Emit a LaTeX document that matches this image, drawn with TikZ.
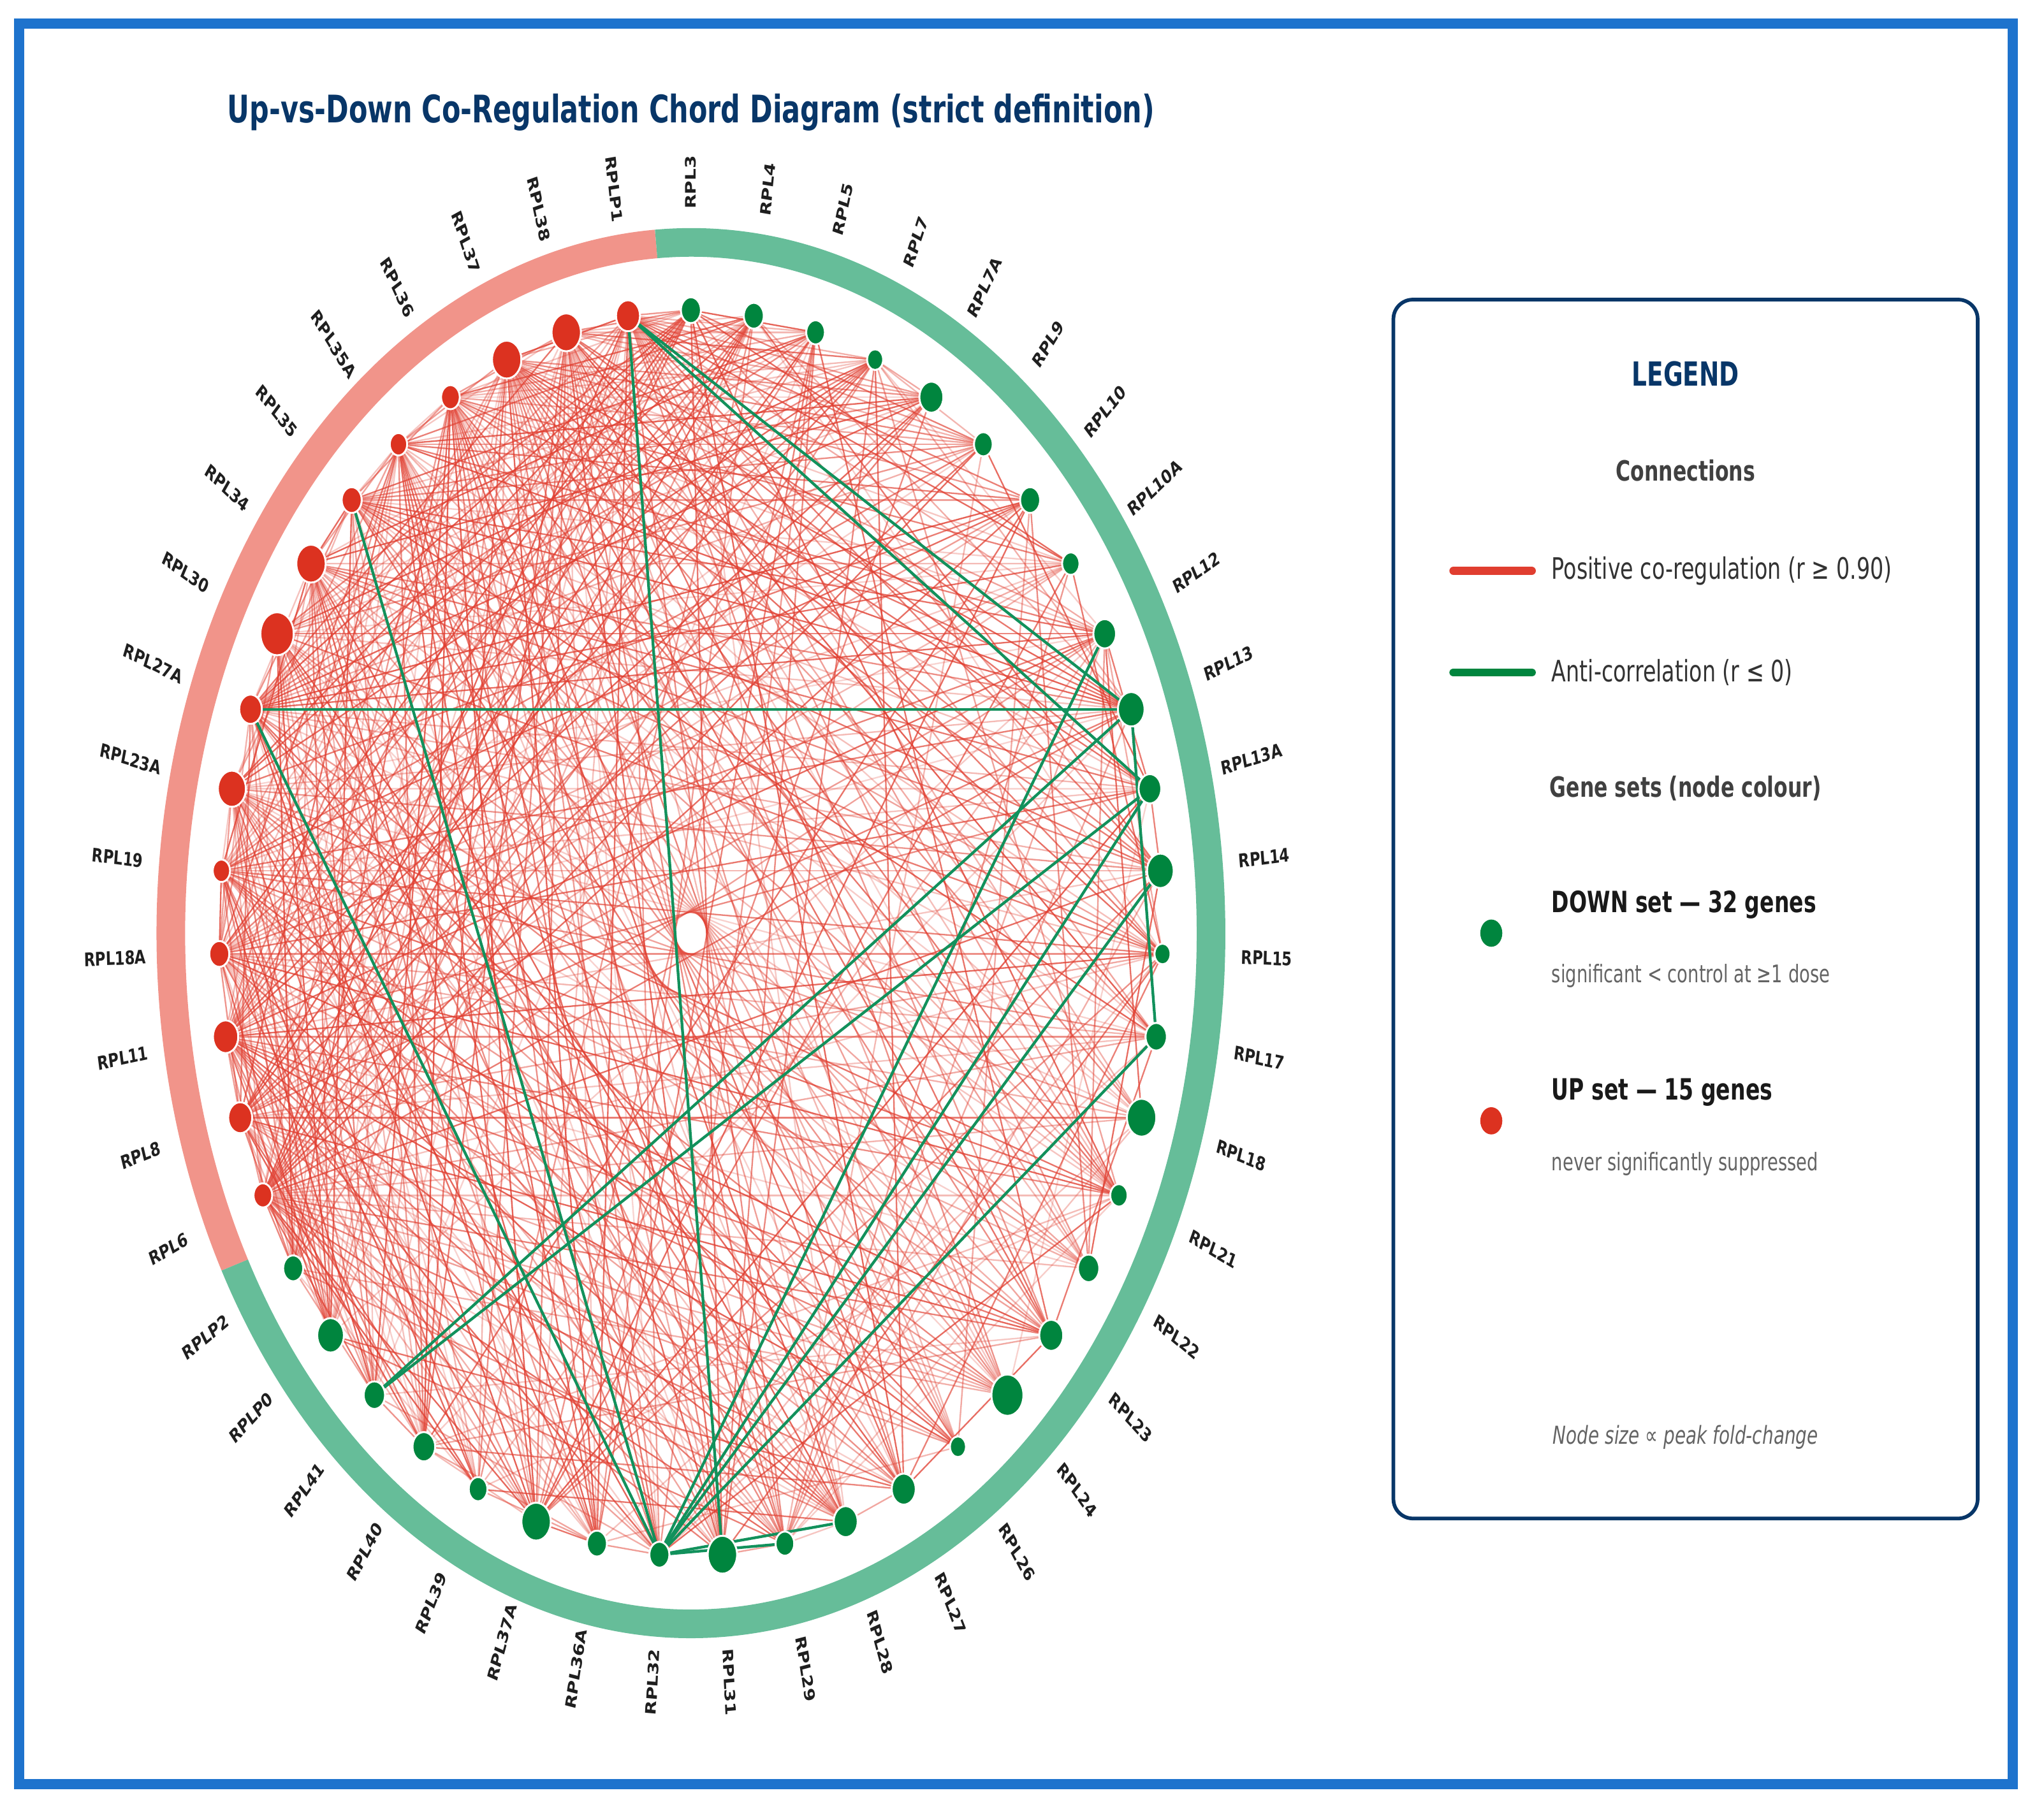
\documentclass[tikz,border=0pt]{standalone}
\usepackage{fontspec}
\setmainfont{DejaVu Sans}[FakeStretch=0.72]
\newfontfamily\genefont{DejaVu Sans}
\usetikzlibrary{shapes.geometric, backgrounds, positioning}

\definecolor{navy}{RGB}{8,54,104}
\definecolor{frameblue}{RGB}{30,115,205}
\definecolor{upring}{RGB}{241,148,138}
\definecolor{downring}{RGB}{102,189,153}
\definecolor{upnode}{RGB}{220,50,32}
\definecolor{downnode}{RGB}{0,133,62}
\definecolor{posred}{RGB}{224,62,48}
\definecolor{antigreen}{RGB}{18,145,92}
\definecolor{headgray}{RGB}{64,64,64}
\definecolor{notegray}{RGB}{100,100,100}

\begin{document}
\begin{tikzpicture}[
    x=0.02cm, y=0.02cm,
    gene/.style={ellipse, draw=white, line width=0.8pt, inner sep=0pt},
    genelabel/.style={font=\genefont\bfseries\fontsize{6.3}{7}\selectfont, text=black!88, inner sep=0pt, yscale=1.3},
    ring/.style={line width=12.5pt},
    posline/.style={draw=posred, line width=0.65pt},
    antiline/.style={draw=antigreen, line width=1.2pt},
    keyline/.style={line width=3.6pt, line cap=round},
    charttitle/.style={font=\bfseries\fontsize{16.6}{19}\selectfont, text=navy},
    legendbox/.style={draw=navy, line width=1.6pt, rounded corners=8.5pt, minimum width=255.1pt, minimum height=532.3pt},
    legtitle/.style={font=\bfseries\fontsize{14.5}{16}\selectfont, text=navy},
    leghead/.style={font=\bfseries\fontsize{12.2}{14}\selectfont, text=headgray},
    legtext/.style={font=\fontsize{12.9}{15}\selectfont, text=black!80, inner sep=0pt},
    setname/.style={font=\bfseries\fontsize{12.8}{15}\selectfont, text=black!90, inner sep=0pt},
    setnote/.style={font=\fontsize{10.6}{12}\selectfont, text=notegray, inner sep=0pt},
    sizenote/.style={font=\itshape\fontsize{10.8}{12}\selectfont, text=notegray}
]
    \useasboundingbox (0,0) rectangle (1568,1393);

    % Frame
    \draw[frameblue, line width=4.5pt] (14.5,1375) rectangle (1544,24);

    % Title
    \node[charttitle] (title) at (530,1307) {Up-vs-Down Co-Regulation Chord Diagram (strict definition)};

    \begin{scope}[shift={(530,677)}]
        % Outer ring: UP arc and DOWN arc
        \draw[ring, upring] (-151.28:399 and 530) arc[start angle=-151.28, end angle=-266.17, x radius=399, y radius=530];
        \draw[ring, downring] (93.83:399 and 530) arc[start angle=93.83, end angle=-151.28, x radius=399, y radius=530];

        % Genes: 32 DOWN, then 15 UP (name/size)
        \foreach \g/\r [count=\i from 0] in {
            RPL3/7.5, RPL4/7.5, RPL5/7, RPL7/6, RPL7A/9, RPL9/7, RPL10/7.5, RPL10A/6.5,
            RPL12/8.5, RPL13/10, RPL13A/8.5, RPL14/10, RPL15/6, RPL17/8, RPL18/11, RPL21/6.5,
            RPL22/8, RPL23/9, RPL24/12, RPL26/6, RPL27/9, RPL28/9, RPL29/7, RPL31/11,
            RPL32/7.5, RPL36A/7.5, RPL37A/11, RPL39/7, RPL40/8.5, RPL41/8, RPLP0/10, RPLP2/7.5,
            RPL6/7, RPL8/9, RPL11/9.5, RPL18A/7.5, RPL19/6.5, RPL23A/10.5, RPL27A/8.5, RPL30/12.5,
            RPL34/11, RPL35/7.5, RPL35A/6.5, RPL36/7, RPL37/11, RPL38/11, RPLP1/9} {
            \pgfmathsetmacro\t{90-\i*7.659574}
            \pgfmathsetmacro\gw{2.05*\r*0.5669}
            \pgfmathsetmacro\gh{2.65*\r*0.5669}
            \pgfmathsetmacro\rot{cos(\t)<(-0.001) ? \t+180 : \t}
            \ifnum\i<32 \def\setcol{downnode}\else\def\setcol{upnode}\fi
            \node[gene, fill=\setcol, minimum width=\gw pt, minimum height=\gh pt, alias=\g] (n\i) at (\t:362 and 478) {};
            \node[genelabel, rotate=\rot] (l\i) at (\t:442 and 576) {\g};
        }
    \end{scope}

    \begin{pgfonlayer}{background}
        % Positive co-regulation chords
        \pgfmathsetseed{4711}
        \foreach \i in {0,...,45} {
            \pgfmathtruncatemacro\jfirst{\i+1}
            \foreach \j in {\jfirst,...,46} {
                \pgfmathsetmacro\p{(\i<32 && \j>31) ? 0.8 : ((\i>31) ? 0.45 : 0.2)}
                \pgfmathsetmacro\roll{rnd}
                \ifdim\roll pt<\p pt
                    \pgfmathsetmacro\op{0.22+0.6*rnd}
                    \draw[posline, draw opacity=\op] (n\i) -- (n\j);
                \fi
            }
        }
        % Anti-correlation chords
        \foreach \a/\b in {RPLP1/RPL31, RPLP1/RPL13, RPLP1/RPL13A, RPL27A/RPL13, RPL27A/RPL32,
                           RPL35/RPL32, RPL13/RPL41, RPL13A/RPL41, RPL13/RPL17, RPL12/RPL32,
                           RPL13A/RPL32, RPL14/RPL32, RPL17/RPL32, RPL32/RPL29, RPL32/RPL28}
            \draw[antiline] (\a) -- (\b);
    \end{pgfonlayer}

    % Legend
    \node[legendbox] (legend) at (1293,695.5) {};
    \node[legtitle] (legtitle) at (1293,1106) {LEGEND};
    \node[leghead] (connhead) at (1293,1032) {Connections};

    \coordinate (poskeyA) at (1115,955);
    \coordinate (poskeyB) at (1175,955);
    \draw[keyline, posred] (poskeyA) -- (poskeyB);
    \node[legtext, right=8.5pt of poskeyB] (postext) {Positive co-regulation (r ≥ 0.90)};

    \coordinate (antikeyA) at (1115,877);
    \coordinate (antikeyB) at (1175,877);
    \draw[keyline, downnode] (antikeyA) -- (antikeyB);
    \node[legtext, right=8.5pt of antikeyB] (antitext) {Anti-correlation (r ≤ 0)};

    \node[leghead] (sethead) at (1293,788) {Gene sets (node colour)};

    \node[gene, draw=none, fill=downnode, minimum width=9.6pt, minimum height=11.9pt] (downkey) at (1144,677) {};
    \node[setname, anchor=west] (downname) at (1190,699) {DOWN set — 32 genes};
    \node[setnote, anchor=west] (downnote) at (1190,644) {significant < control at ≥1 dose};

    \node[gene, draw=none, fill=upnode, minimum width=9.6pt, minimum height=11.9pt] (upkey) at (1144,533) {};
    \node[setname, anchor=west] (upname) at (1190,555) {UP set — 15 genes};
    \node[setnote, anchor=west] (upnote) at (1190,500) {never significantly suppressed};

    \node[sizenote] (sizenote) at (1293,290) {Node size ∝ peak fold-change};
\end{tikzpicture}
\end{document}
